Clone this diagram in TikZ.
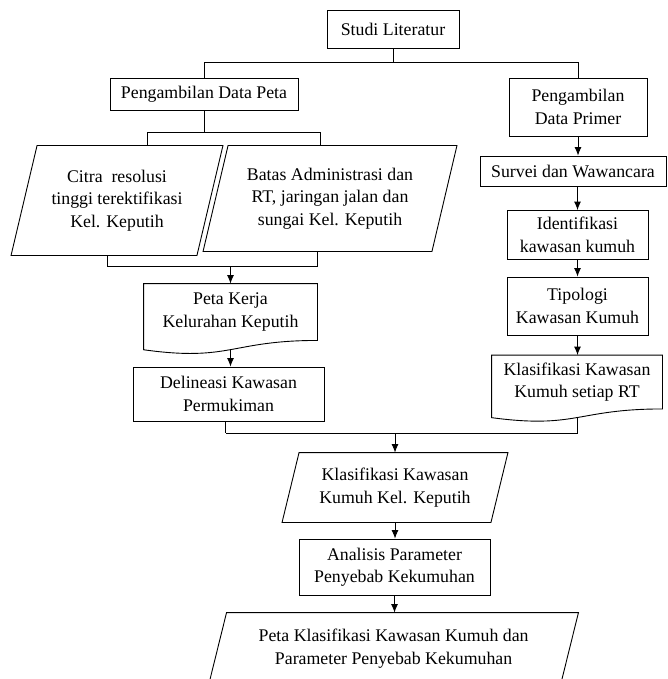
\documentclass[tikz,border=0pt]{standalone}
\usepackage{fontspec}
\setmainfont{Liberation Serif}
\usetikzlibrary{arrows.meta,calc}
\begin{document}
\begin{tikzpicture}[x=1pt,y=-1pt,
  line width=0.9pt,
  every node/.style={inner sep=0pt, align=center, font=\fontsize{17.8}{22.5}\selectfont},
  boxnode/.style={draw, rectangle},
  plain/.style={rectangle},
  arr/.style={-{Latex[length=8.5pt,width=7pt]}},
]
\useasboundingbox (0,0) rectangle (667,679);
\clip (0,0) rectangle (667,679);

% nodes
\node[boxnode, minimum width=132pt, minimum height=38pt] (studi) at (393,29) {Studi Literatur};
\node[boxnode, minimum width=188pt, minimum height=32pt] (dpeta) at (204,94) {Pengambilan Data Peta};
\node[boxnode, minimum width=138pt, minimum height=58pt] (primer) at (578,107) {Pengambilan\\Data Primer};
\node[plain, minimum width=185pt, minimum height=109pt] (citra) at (117,200.5) {Citra\ \ resolusi\\tinggi terektifikasi\\Kel. Keputih};
\node[plain, minimum width=228pt, minimum height=105pt] (batas) at (330,198.5) {Batas Administrasi dan\\RT, jaringan jalan dan\\sungai Kel. Keputih};
\node[plain, minimum width=173pt, minimum height=56pt] (kerja) at (230.5,312) {Peta Kerja\\Kelurahan Keputih};
\node[boxnode, minimum width=191pt, minimum height=54pt] (delin) at (228.5,394) {Delineasi Kawasan\\Permukiman};
\node[boxnode, minimum width=186pt, minimum height=30pt] (survei) at (573,171) {Survei dan Wawancara};
\node[boxnode, minimum width=141pt, minimum height=49pt] (ident) at (577.5,235) {Identifikasi\\kawasan kumuh};
\node[boxnode, minimum width=141pt, minimum height=58pt] (tipo) at (577.5,306) {Tipologi\\Kawasan Kumuh};
\node[plain, minimum width=170pt, minimum height=53pt] (klasrt) at (577,382) {\raisebox{-3pt}{Klasifikasi Kawasan}\\\raisebox{-3pt}{Kumuh setiap RT}};
\node[plain, minimum width=208pt, minimum height=69pt] (klaskel) at (395,487.5) {Klasifikasi Kawasan\\Kumuh Kel. Keputih};
\node[boxnode, minimum width=191pt, minimum height=56pt] (anal) at (394.5,567) {Analisis Parameter\\Penyebab Kekumuhan};
\node[plain, minimum width=351pt, minimum height=71pt] (hasil) at (393.6,648.5) {Peta Klasifikasi Kawasan Kumuh dan\\Parameter Penyebab Kekumuhan};

% parallelograms
\draw ([xshift=13pt]citra.north west) -- ([xshift=13pt]citra.north east) -- ([xshift=-13pt]citra.south east) -- ([xshift=-13pt]citra.south west) -- cycle;
\draw ([xshift=12.5pt]batas.north west) -- ([xshift=12.5pt]batas.north east) -- ([xshift=-12.5pt]batas.south east) -- ([xshift=-12.5pt]batas.south west) -- cycle;
\draw ([xshift=8.5pt]klaskel.north west) -- ([xshift=8.5pt]klaskel.north east) -- ([xshift=-8.5pt]klaskel.south east) -- ([xshift=-8.5pt]klaskel.south west) -- cycle;
\draw ([xshift=8.9pt]hasil.north west) -- ([xshift=8.9pt]hasil.north east) -- ([xshift=-8.9pt]hasil.south east) -- ([xshift=-8.9pt]hasil.south west) -- cycle;

% documents
\draw ($(kerja.south west)+(0,9.3)$) -- (kerja.north west) -- (kerja.north east) -- (kerja.south east)
  .. controls (kerja.south) and ($(kerja.south)+(0,21.4)$) .. ($(kerja.south west)+(0,9.3)$) -- cycle;
\draw ($(klasrt.south west)+(0,8.7)$) -- (klasrt.north west) -- (klasrt.north east) -- (klasrt.south east)
  .. controls (klasrt.south) and ($(klasrt.south)+(0,20.1)$) .. ($(klasrt.south west)+(0,8.7)$) -- cycle;

% connectors
\draw (studi.south) -- ++(0,14) coordinate (j1);
\draw (dpeta.north) |- (j1) -| (primer.north);
\draw (dpeta.south) -- ++(0,22) coordinate (j2);
\draw ([xshift=30pt]citra.north) |- (j2) -| ([xshift=-10pt]batas.north);
\draw ([xshift=-10pt]citra.south) -- ++(0,11) coordinate (j3);
\draw (j3) -| ([xshift=-13pt]batas.south);
\draw[arr] (kerja.north |- j3) -- (kerja.north);
\coordinate (w1) at ($(kerja.south)+(0,9.3)$);
\draw[arr] (w1) -- (w1 |- delin.north);
\draw ([xshift=-3pt]delin.south) -- ++(0,12) coordinate (j4);
\coordinate (w2) at ($(klasrt.south)+(0,8.7)$);
\draw (w2) -- (w2 |- j4) -- (j4);
\draw[arr] (klaskel.north |- j4) -- (klaskel.north);
\draw[arr] (primer.south) -- (primer.south |- survei.north);
\draw[arr] (ident.north |- survei.south) -- (ident.north);
\draw[arr] (ident.south) -- (tipo.north);
\draw[arr] (tipo.south) -- (tipo.south |- klasrt.north);
\draw[arr] (klaskel.south) -- (klaskel.south |- anal.north);
\draw[arr] (anal.south) -- (anal.south |- hasil.north);
\end{tikzpicture}
\end{document}
